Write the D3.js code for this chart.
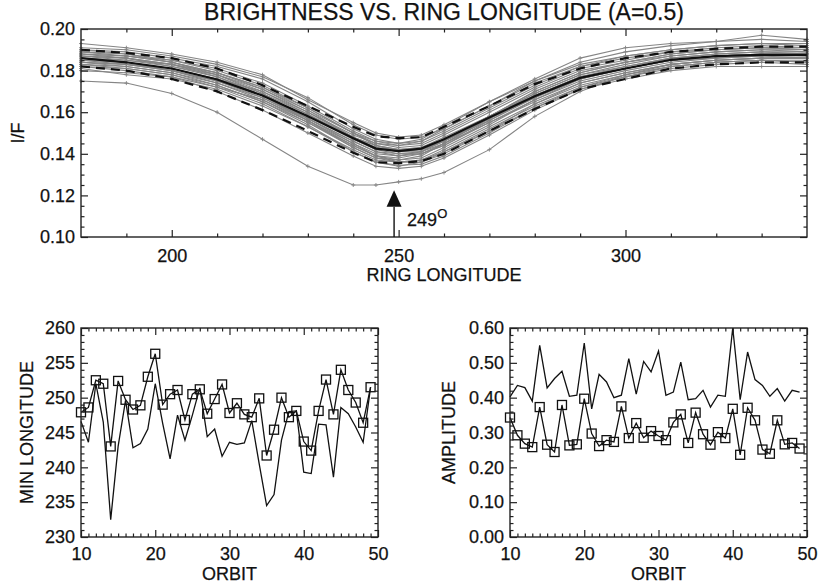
<!DOCTYPE html>
<html>
<head>
<meta charset="utf-8">
<script src="https://cdn.jsdelivr.net/npm/d3@7"></script>
<style>
  body { margin: 0; background: #fff; }
  svg { display: block; }
  text { font-family: "Liberation Sans", Arial, Helvetica, sans-serif; fill: #111; stroke: #111; stroke-width: 0.25px; }
</style>
</head>
<body>
<svg id="chart" width="820" height="587"></svg>
<script>
// ---- top panel data: brightness vs ring longitude ----
const longitudes = [180,190,200,210,220,230,240,245,250,255,260,270,280,290,300,310,320,330,340]
const meanIF  = [.186,.184,.181,.1757,.168,.158,.1475,.1425,.1413,.1425,.147,.1574,.1677,.1765,.181,.1852,.187,.1876,.1876]
const upperIF = [.190,.1885,.186,.181,.173,.163,.153,.1485,.1475,.148,.153,.163,.1735,.181,.186,.189,.1905,.1915,.1915]
const lowerIF = [.182,.180,.176,.170,.161,.151,.1405,.136,.1355,.1365,.140,.151,.1615,.171,.176,.181,.183,.184,.184]
const orbitCurves = [
  [.193,.191,.188,.184,.178,.166,.155,.150,.148,.149,.154,.165,.176,.186,.191,.193,.194,.197,.195],
  [.175,.174,.169,.160,.147,.134,.125,.125,.1265,.128,.131,.142,.158,.170,.178,.183,.185,.186,.186],
  [.188,.187,.184,.179,.172,.161,.150,.145,.143,.144,.149,.160,.171,.180,.184,.188,.190,.191,.190],
  [.184,.182,.179,.173,.165,.155,.144,.139,.138,.140,.145,.155,.165,.174,.179,.183,.185,.186,.186],
  [.190,.189,.186,.182,.176,.165,.152,.147,.145,.146,.151,.162,.173,.182,.187,.190,.192,.193,.192],
  [.181,.178,.176,.171,.163,.153,.141,.136,.134,.136,.141,.152,.163,.172,.177,.182,.184,.185,.185],
  [.187,.186,.182,.178,.169,.157,.146,.141,.140,.141,.146,.156,.167,.177,.182,.186,.188,.189,.188],
  [.185,.183,.181,.176,.170,.160,.148,.143,.141,.141,.145,.157,.169,.178,.182,.186,.188,.189,.189],
  [.189,.188,.185,.181,.174,.163,.151,.146,.144,.145,.150,.161,.172,.181,.185,.189,.191,.192,.191],
  [.183,.181,.178,.172,.164,.153,.142,.137,.136,.137,.142,.153,.164,.173,.178,.182,.184,.185,.184],
  [.186,.184,.180,.174,.166,.156,.145,.140,.139,.141,.147,.158,.169,.178,.183,.187,.189,.190,.190],
  [.182,.180,.177,.170,.161,.150,.139,.134,.133,.134,.138,.149,.161,.171,.177,.181,.183,.184,.183],
  [.188,.186,.183,.178,.171,.160,.149,.145,.144,.146,.152,.163,.174,.182,.186,.189,.190,.191,.190],
  [.184,.183,.180,.175,.167,.157,.146,.141,.139,.140,.144,.155,.166,.175,.180,.184,.186,.187,.187],
  [.187,.185,.182,.177,.169,.159,.147,.142,.140,.140,.144,.156,.168,.177,.181,.185,.187,.188,.188],
  [.185,.184,.181,.176,.168,.158,.147,.143,.142,.143,.148,.158,.168,.176,.181,.185,.187,.188,.187],
  [.190,.188,.184,.178,.170,.159,.148,.144,.142,.142,.146,.157,.167,.176,.181,.185,.187,.188,.188],
  [.183,.182,.179,.174,.167,.156,.143,.138,.137,.139,.145,.157,.168,.177,.181,.185,.186,.187,.186],
  [.191,.190,.187,.183,.177,.167,.154,.149,.147,.148,.152,.163,.175,.184,.189,.192,.194,.195,.194],
  [.180,.179,.177,.172,.166,.155,.143,.138,.136,.137,.141,.151,.162,.171,.176,.180,.182,.182,.182],
  [.186,.185,.183,.179,.171,.161,.148,.144,.142,.143,.147,.158,.170,.179,.184,.188,.190,.191,.191],
  [.187,.186,.183,.177,.168,.156,.144,.139,.137,.138,.143,.154,.166,.176,.181,.185,.187,.188,.188],
  [.184,.183,.180,.175,.168,.157,.145,.139,.136,.136,.140,.151,.164,.174,.179,.183,.185,.186,.186],
  [.189,.187,.185,.180,.173,.162,.150,.146,.145,.147,.153,.165,.175,.183,.187,.190,.192,.193,.193],
  [.182,.181,.178,.173,.165,.154,.141,.136,.1345,.135,.139,.150,.162,.172,.178,.182,.184,.185,.184],
  [.188,.187,.184,.179,.172,.162,.150,.144,.141,.142,.146,.158,.170,.179,.184,.187,.189,.190,.189]
]
const minLongitudeMark = 249
const lonTicks = [200, 250, 300]
const ifTicks = [0.10, 0.12, 0.14, 0.16, 0.18, 0.20]

// ---- bottom panels: per orbit ----
const orbits = d3.range(10, 50)
const minLonSquares = [247.9,248.6,252.5,252.0,243.0,252.4,249.7,248.3,248.9,253.0,256.3,249.0,250.5,251.1,246.8,250.5,251.2,247.7,249.8,251.9,
  247.8,249.2,247.6,247.2,249.9,241.7,245.4,250.0,247.2,248.1,243.7,242.4,248.1,252.6,247.6,254.0,251.1,249.3,246.4,251.5]
const minLonLine = [246.6,243.6,252.0,246.5,232.5,243.0,249.6,242.8,243.4,245.5,252.0,246.3,241.2,247.5,243.9,247.5,251.4,244.4,245.5,241.6,
  243.6,243.3,243.5,246.7,240.5,234.5,236.1,243.9,248.0,248.1,239.3,239.1,246.2,246.1,238.6,248.6,247.7,245.8,243.6,251.5]
const ampSquares = [.343,.292,.268,.258,.373,.265,.244,.379,.263,.266,.397,.297,.261,.278,.273,.375,.284,.327,.285,.304,
  .290,.278,.329,.352,.270,.357,.295,.265,.301,.284,.368,.236,.371,.335,.251,.239,.335,.266,.270,.254]
const ampLine = [.402,.435,.429,.390,.550,.428,.455,.476,.404,.407,.557,.368,.467,.445,.400,.407,.512,.410,.504,.474,
  .534,.407,.416,.502,.394,.397,.421,.373,.407,.404,.600,.394,.531,.452,.435,.404,.426,.390,.421,.416]
const orbitTicks = [10, 20, 30, 40, 50]
const minLonTicks = [230, 235, 240, 245, 250, 255, 260]
const ampTicks = [0.0, 0.1, 0.2, 0.3, 0.4, 0.5, 0.6]

const svg = d3.select('#chart')
const FONT = 18

// box with inward ticks on all four sides, IDL style
function frame(g, x, y, o) {
  const w = x.range()[1] - x.range()[0]
  const h = y.range()[0] - y.range()[1]
  const styl = sel => {
    sel.select('.domain').remove()
    sel.attr('font-size', FONT).attr('font-family', null).attr('fill', null)
    sel.selectAll('line').attr('stroke', '#222').attr('stroke-width', 1.2)
    sel.selectAll('text').attr('fill', null)
  }
  g.append('g').attr('transform', `translate(0,${h})`)
    .call(d3.axisBottom(x).tickValues(o.xMajor).tickSize(-7).tickSizeOuter(0).tickPadding(o.xPad).tickFormat(o.xFmt)).call(styl)
  g.append('g').attr('transform', `translate(0,${h})`)
    .call(d3.axisBottom(x).tickValues(o.xMinor).tickSize(-3.5).tickSizeOuter(0).tickFormat('')).call(styl)
  g.append('g')
    .call(d3.axisTop(x).tickValues(o.xMajor).tickSize(-7).tickSizeOuter(0).tickFormat('')).call(styl)
  g.append('g')
    .call(d3.axisTop(x).tickValues(o.xMinor).tickSize(-3.5).tickSizeOuter(0).tickFormat('')).call(styl)
  g.append('g')
    .call(d3.axisLeft(y).tickValues(o.yMajor).tickSize(-7).tickSizeOuter(0).tickPadding(6).tickFormat(o.yFmt)).call(styl)
  g.append('g')
    .call(d3.axisLeft(y).tickValues(o.yMinor).tickSize(-3.5).tickSizeOuter(0).tickFormat('')).call(styl)
  g.append('g').attr('transform', `translate(${w},0)`)
    .call(d3.axisRight(y).tickValues(o.yMajor).tickSize(-7).tickSizeOuter(0).tickFormat('')).call(styl)
  g.append('g').attr('transform', `translate(${w},0)`)
    .call(d3.axisRight(y).tickValues(o.yMinor).tickSize(-3.5).tickSizeOuter(0).tickFormat('')).call(styl)
  g.append('rect').attr('width', w).attr('height', h)
    .attr('fill', 'none').attr('stroke', '#222').attr('stroke-width', 1.4)
}

// ===== top panel =====
const pT = { left: 81, top: 29, w: 726, h: 208 }
const gT = svg.append('g').attr('transform', `translate(${pT.left},${pT.top})`)
const xT = d3.scaleLinear().domain([180, 340]).range([0, pT.w])
const yT = d3.scaleLinear().domain([0.10, 0.20]).range([pT.h, 0])
const lineT = d3.line().x((d, i) => xT(longitudes[i])).y(d => yT(d))

orbitCurves.forEach(c => {
  gT.append('path').attr('d', lineT(c))
    .attr('fill', 'none').attr('stroke', '#858585').attr('stroke-width', 1.1)
  gT.append('path')
    .attr('d', c.map((v, i) => `M${xT(longitudes[i]) - 2},${yT(v)}h4M${xT(longitudes[i])},${yT(v) - 2}v4`).join(''))
    .attr('stroke', '#858585').attr('stroke-width', 0.9)
})
gT.append('path').attr('d', lineT(meanIF))
  .attr('fill', 'none').attr('stroke', '#111').attr('stroke-width', 2.2)
;[upperIF, lowerIF].forEach(c => {
  gT.append('path').attr('d', lineT(c))
    .attr('fill', 'none').attr('stroke', '#111').attr('stroke-width', 2.2).attr('stroke-dasharray', '9,6')
})

frame(gT, xT, yT, {
  xMajor: lonTicks, xMinor: d3.range(190, 340, 10).filter(v => !lonTicks.includes(v)), xFmt: d3.format('d'), xPad: 12,
  yMajor: ifTicks, yMinor: d3.range(0.105, 0.2, 0.005).filter(v => Math.abs(v * 50 - Math.round(v * 50)) > 1e-6),
  yFmt: d3.format('.2f')
})

// arrow at the minimum
const ax = xT(minLongitudeMark)
gT.append('line').attr('x1', ax).attr('x2', ax).attr('y1', pT.h).attr('y2', yT(0.1145))
  .attr('stroke', '#111').attr('stroke-width', 1.4)
gT.append('path')
  .attr('d', `M${ax},${yT(0.1225)}L${ax - 7.5},${yT(0.1145)}L${ax + 7.5},${yT(0.1145)}Z`)
  .attr('fill', '#111')
const lab = gT.append('text').attr('x', ax + 13).attr('y', yT(0.1052)).attr('font-size', FONT)
lab.append('tspan').text(minLongitudeMark)
lab.append('tspan').attr('dy', -8).attr('font-size', 13).text('O')

svg.append('text').attr('x', pT.left + pT.w / 2).attr('y', 20).attr('text-anchor', 'middle')
  .attr('font-size', 23).text('BRIGHTNESS VS. RING LONGITUDE (A=0.5)')
svg.append('text').attr('x', pT.left + pT.w / 2).attr('y', 281).attr('text-anchor', 'middle')
  .attr('font-size', FONT).text('RING LONGITUDE')
svg.append('text').attr('transform', `translate(24,${pT.top + pT.h / 2}) rotate(-90)`).attr('text-anchor', 'middle')
  .attr('font-size', FONT).text('I/F')

// ===== bottom panels =====
function orbitPanel(left, yDomain, yMajor, yMinor, yFmt, sq, ln, ylabel, labelX) {
  const p = { top: 328, w: 297, h: 209 }
  const g = svg.append('g').attr('transform', `translate(${left},${p.top})`)
  const x = d3.scaleLinear().domain([10, 50]).range([0, p.w])
  const y = d3.scaleLinear().domain(yDomain).range([p.h, 0])
  const line = d3.line().x((d, i) => x(orbits[i])).y(d => y(d))
  g.append('path').attr('d', line(ln)).attr('fill', 'none').attr('stroke', '#111').attr('stroke-width', 1.3)
  g.append('path').attr('d', line(sq)).attr('fill', 'none').attr('stroke', '#111').attr('stroke-width', 1.3)
  g.selectAll('rect.sq').data(sq).enter().append('rect').attr('class', 'sq')
    .attr('x', (d, i) => x(orbits[i]) - 4.5).attr('y', d => y(d) - 4.5)
    .attr('width', 9).attr('height', 9)
    .attr('fill', 'none').attr('stroke', '#111').attr('stroke-width', 1.3)
  frame(g, x, y, {
    xMajor: orbitTicks, xMinor: d3.range(11, 50).filter(v => v % 10), xFmt: d3.format('d'), xPad: 10,
    yMajor: yMajor, yMinor: yMinor, yFmt: yFmt
  })
  svg.append('text').attr('x', left + p.w / 2).attr('y', 580).attr('text-anchor', 'middle')
    .attr('font-size', FONT).text('ORBIT')
  svg.append('text').attr('transform', `translate(${labelX},${p.top + p.h / 2}) rotate(-90)`).attr('text-anchor', 'middle')
    .attr('font-size', FONT).text(ylabel)
}

orbitPanel(81, [230, 260], minLonTicks, d3.range(231, 260).filter(v => v % 5), d3.format('d'),
  minLonSquares, minLonLine, 'MIN LONGITUDE', 33)
orbitPanel(510, [0, 0.6], ampTicks, d3.range(1, 30).filter(v => v % 5).map(v => v * 0.02), d3.format('.2f'),
  ampSquares, ampLine, 'AMPLITUDE', 455)
</script>
</body>
</html>
